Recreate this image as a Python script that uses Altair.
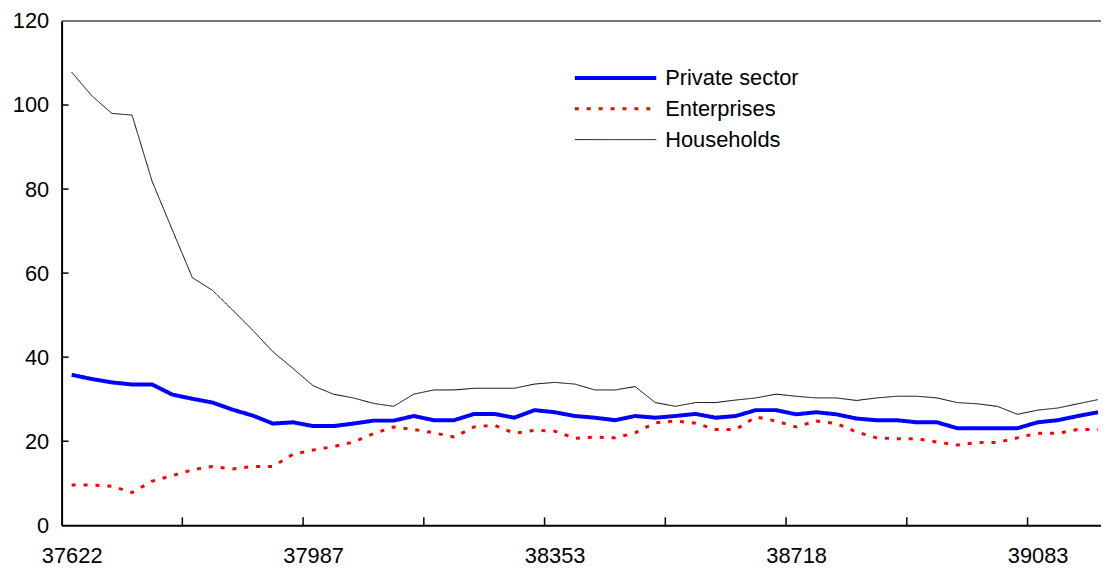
import altair as alt
import pandas as pd

# ---- data ----
series_names = ["Private sector", "Enterprises", "Households"]
series_colors = ["#0000FF", "#FF0000", "#000000"]
series_dash = [[1, 0], [4, 8], [1, 0]]
series_width = [4, 3, 1]

private_sector = [35.8, 34.8, 34.0, 33.5, 33.5, 31.1, 30.1, 29.2, 27.5, 26.1,
                  24.2, 24.5, 23.6, 23.6, 24.2, 24.9, 24.9, 26.0, 25.0, 25.0,
                  26.5, 26.5, 25.6, 27.4, 26.9, 26.0, 25.6, 25.0, 26.0, 25.6,
                  26.0, 26.5, 25.6, 26.0, 27.4, 27.4, 26.4, 26.9, 26.4, 25.4,
                  25.0, 25.0, 24.5, 24.5, 23.1, 23.1, 23.1, 23.1, 24.5, 25.0,
                  26.0, 26.9]
enterprises = [9.6, 9.6, 9.3, 7.8, 10.5, 11.8, 13.2, 14.0, 13.4, 14.0,
               14.0, 16.9, 17.9, 18.7, 19.8, 21.8, 23.4, 22.8, 22.0, 21.0,
               23.4, 23.8, 21.9, 22.6, 22.4, 20.7, 21.0, 20.8, 22.0, 24.4,
               24.8, 24.3, 22.8, 22.8, 25.8, 24.8, 23.4, 24.8, 24.2, 22.2,
               20.8, 20.6, 20.6, 19.8, 19.1, 19.7, 19.7, 20.8, 21.9, 21.9,
               22.8, 22.8]
households = [107.8, 102.2, 98.0, 97.6, 81.8, 70.3, 58.9, 55.9, 51.2, 46.4,
              41.3, 37.3, 33.2, 31.2, 30.3, 29.0, 28.3, 31.2, 32.2, 32.2,
              32.6, 32.6, 32.6, 33.6, 34.0, 33.6, 32.2, 32.2, 33.0, 29.2,
              28.3, 29.2, 29.2, 29.8, 30.3, 31.2, 30.7, 30.3, 30.3, 29.7,
              30.3, 30.7, 30.7, 30.3, 29.2, 28.9, 28.3, 26.4, 27.4, 27.9,
              28.9, 29.9]

x_tick_labels = ["37622", "37987", "38353", "38718", "39083"]
x_label_months = [0, 12, 24, 36, 48]
half_year_ticks = [5.5, 11.5, 17.5, 23.5, 29.5, 35.5, 41.5, 47.5]
y_ticks = [0, 20, 40, 60, 80, 100, 120]

# ---- table ----
rows = []
for name, vals in zip(series_names, [private_sector, enterprises, households]):
    for i, v in enumerate(vals):
        rows.append({"month": i, "value": v, "series": name})
df = pd.DataFrame(rows)

FONT = "Liberation Sans"
FS = 22
W, H = 1047, 508

label_expr = " : ".join(
    f"datum.value == {m} ? '{lab}'" for m, lab in zip(x_label_months, x_tick_labels)
) + " : ''"

xscale = alt.Scale(domain=[-0.5, 51.15], nice=False, zero=False)
yscale = alt.Scale(domain=[0, 120], nice=False)

xaxis = alt.Axis(values=x_label_months, labelExpr=label_expr, ticks=False,
                 grid=False, domainColor="black", domainWidth=2,
                 labelFont=FONT, labelFontSize=FS, labelColor="black",
                 labelPadding=21, labelFlush=False, labelOverlap=False,
                 title=None)
yaxis = alt.Axis(values=y_ticks, ticks=False, grid=False,
                 domainColor="black", domainWidth=2, labelFont=FONT,
                 labelFontSize=FS, labelColor="black", labelPadding=13,
                 format="d", title=None)

legend = alt.Legend(
    title=None, orient="none", legendX=515, legendY=42,
    symbolType="stroke", symbolSize=6724, clipHeight=31, rowPadding=0,
    labelFont=FONT, labelFontSize=FS, labelColor="black", labelOffset=7,
    padding=0,
)

lines = alt.Chart(df).mark_line(strokeCap="butt", strokeJoin="round").encode(
    x=alt.X("month:Q", scale=xscale, title=None, axis=xaxis),
    y=alt.Y("value:Q", scale=yscale, title=None, axis=yaxis),
    color=alt.Color("series:N",
                    scale=alt.Scale(type="ordinal", domain=series_names, range=series_colors),
                    legend=legend),
    strokeDash=alt.StrokeDash("series:N",
                              scale=alt.Scale(type="ordinal", domain=series_names, range=series_dash),
                              legend=legend),
    strokeWidth=alt.StrokeWidth("series:N",
                                scale=alt.Scale(type="ordinal", domain=series_names, range=series_width),
                                legend=legend),
)

ytick_rules = alt.Chart(pd.DataFrame({"value": y_ticks[1:-1]})).mark_rule(
    color="black", strokeWidth=1.5
).encode(y=alt.Y("value:Q", scale=yscale, title=None, axis=yaxis),
         x=alt.value(0), x2=alt.value(7))

xtick_rules = alt.Chart(pd.DataFrame({"month": half_year_ticks})).mark_rule(
    color="black", strokeWidth=1.5
).encode(x=alt.X("month:Q", scale=xscale, title=None, axis=xaxis),
         y=alt.value(H), y2=alt.value(H - 8))

top_rule = alt.Chart(pd.DataFrame({"value": [120]})).mark_rule(
    color="black", strokeWidth=1
).encode(y=alt.Y("value:Q", scale=yscale, title=None, axis=yaxis))

chart = alt.layer(lines, ytick_rules, xtick_rules, top_rule).properties(
    width=W, height=H,
    autosize=alt.AutoSizeParams(type="none"),
    padding={"left": 54, "top": 11, "right": 0, "bottom": 44},
).configure_view(stroke=None).configure(background="white")

chart.save("out.html", embed_options={"renderer": "svg", "actions": False})
